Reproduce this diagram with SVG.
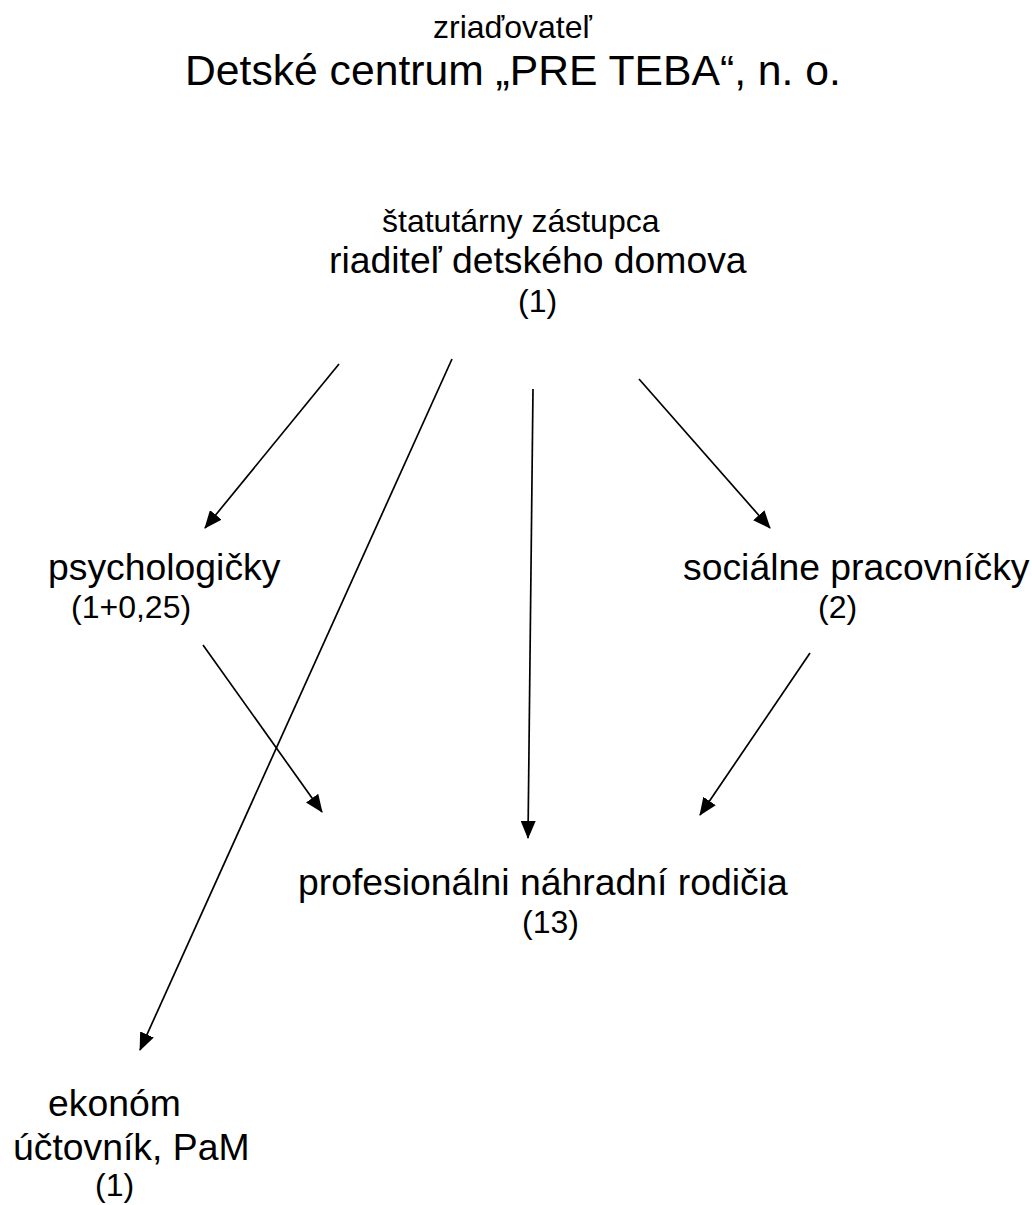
<svg xmlns="http://www.w3.org/2000/svg" width="1032" height="1205" viewBox="0 0 1032 1205">
<style>
  text { font-family: "Liberation Sans", Arial, sans-serif; fill: #000; }
  .t32 { font-size: 42.67px; }
  .t28 { font-size: 37.33px; }
  .t24 { font-size: 32px; }
  .conn line { stroke: #000; stroke-width: 1.7; fill: none; marker-end: url(#arrow); }
</style>
<defs>
  <marker id="arrow" markerUnits="userSpaceOnUse" markerWidth="18" markerHeight="15" viewBox="0 0 18 15" refX="17" refY="7.5" orient="auto">
    <path d="M0,0 L18,7.5 L0,15 z" fill="#000"/>
  </marker>
</defs>
<rect width="1032" height="1205" fill="#fff"/>
<g id="zriadovatel">
  <text class="t24" x="433" y="38">zriaďovateľ</text>
  <text class="t32" x="185" y="85">Detské centrum „PRE TEBA“, n. o.</text>
</g>
<g id="riaditel">
  <text class="t24" x="382" y="232">štatutárny zástupca</text>
  <text class="t28" x="329" y="273">riaditeľ detského domova</text>
  <text class="t24" x="518" y="312">(1)</text>
</g>
<g id="psychologicky">
  <text class="t28" x="48" y="580">psychologičky</text>
  <text class="t24" x="71" y="618">(1+0,25)</text>
</g>
<g id="socialne">
  <text class="t28" x="683" y="580">sociálne pracovníčky</text>
  <text class="t24" x="818" y="618">(2)</text>
</g>
<g id="profesionalni">
  <text class="t28" x="298" y="895">profesionálni náhradní rodičia</text>
  <text class="t24" x="522" y="933">(13)</text>
</g>
<g id="ekonom">
  <text class="t28" x="48" y="1116">ekonóm</text>
  <text class="t28" x="13" y="1160">účtovník, PaM</text>
  <text class="t24" x="95" y="1196">(1)</text>
</g>
<g id="connectors" class="conn">
  <line x1="339" y1="364" x2="205" y2="528"/>
  <line x1="452" y1="359" x2="140" y2="1050"/>
  <line x1="533" y1="389" x2="528" y2="838"/>
  <line x1="639" y1="379" x2="770" y2="528"/>
  <line x1="203" y1="645" x2="322" y2="812"/>
  <line x1="810" y1="653" x2="700" y2="815"/>
</g>
</svg>
